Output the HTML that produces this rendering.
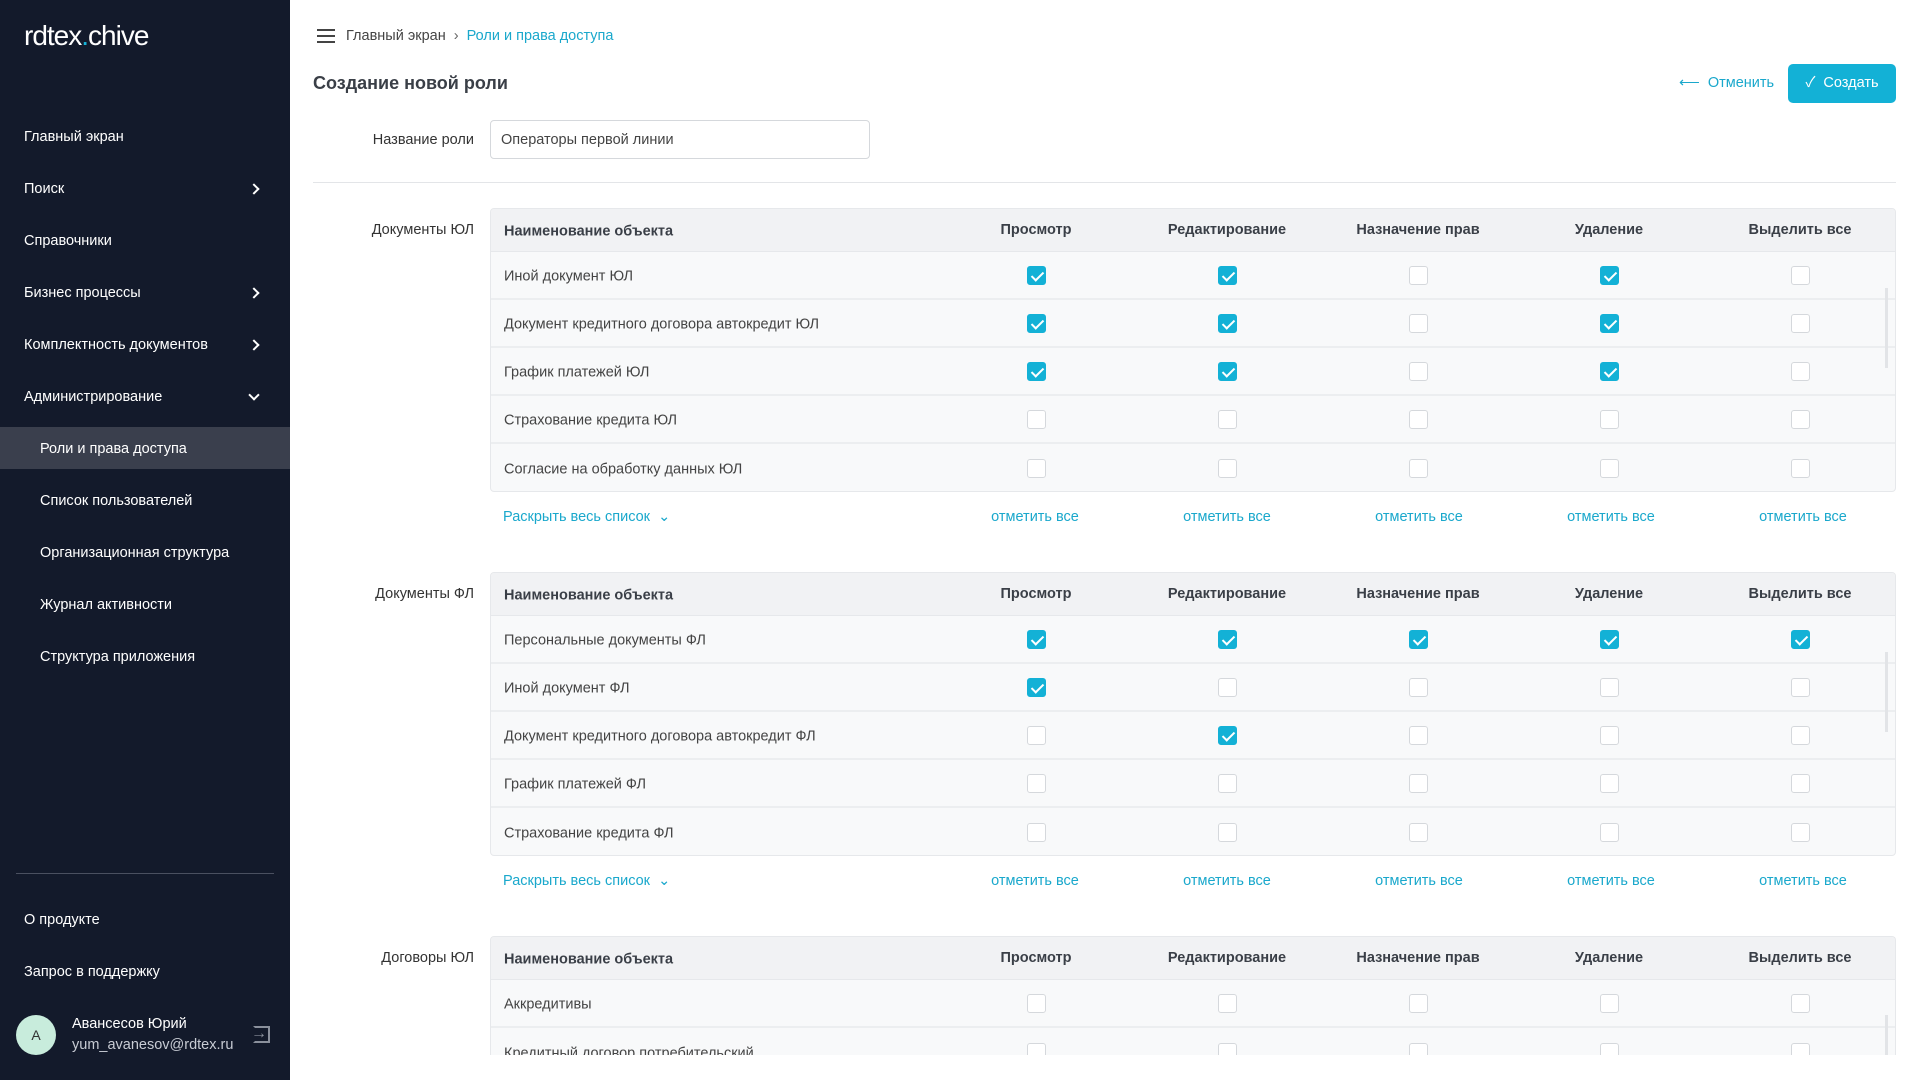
<!DOCTYPE html>
<html><head><meta charset="utf-8"><style>
*{box-sizing:border-box;margin:0;padding:0}
html,body{width:1920px;height:1080px;overflow:hidden}
body{background:#fff;font-family:"Liberation Sans","Noto Sans CJK SC",sans-serif;font-size:14.5px;color:#333;position:relative}
.sb{position:absolute;left:0;top:0;width:290px;height:1080px;background:#131a2b;color:#fff}
.a{position:absolute;white-space:nowrap}
.nav{position:absolute;left:24px;transform:translateY(-50%);font-size:14.5px;color:#fff}
.chev{position:absolute;left:250px;width:8px;height:8px;border-right:2px solid #fff;border-top:2px solid #fff;transform:translateY(-50%) rotate(45deg)}
.link{color:#1aa8cc}
.tbl{position:absolute;left:490px;width:1406px;border:1px solid #e6e8eb;border-radius:4px;background:#f8f9fa;overflow:hidden}
.hd{height:43px;background:#f1f2f4;border-bottom:1px solid #e6e8eb;position:relative;font-weight:bold;color:#3a3f47}
.row{height:48px;border-bottom:2px solid #eceef0;position:relative;color:#444}
.row:last-child{border-bottom:none}
.c{position:absolute;top:50%;transform:translate(-50%,-50%);white-space:nowrap}
.n{position:absolute;left:13px;top:50%;transform:translateY(-40%);white-space:nowrap}
.cb{position:absolute;top:50%;width:19px;height:19px;margin-left:-9.5px;margin-top:-9.5px;border:1px solid #d5d8dc;border-radius:3px;background:#fff}
.cb.on{background:#13b1d6;border-color:#13b1d6}
.cb.on::after{content:"";position:absolute;left:6px;top:2px;width:5px;height:10px;border-right:2px solid #fff;border-bottom:2px solid #fff;transform:rotate(45deg)}
.lbl{position:absolute;right:1446px;font-size:14.5px;color:#333;white-space:nowrap;transform:translateY(-50%)}
.ft{position:absolute;color:#1aa8cc;transform:translate(-50%,-50%);white-space:nowrap}
</style></head><body>
<div class="sb">
<div class="a" style="left:24px;top:20px;font-size:28px;letter-spacing:-1px;color:#fff">rdtex<span style="color:#17b3d8">.</span><span style="font-weight:300">chive</span></div>
<div class="nav" style="top:137px">Главный экран</div>
<div class="nav" style="top:189px">Поиск</div><div class="chev" style="top:189px"></div>
<div class="nav" style="top:241px">Справочники</div>
<div class="nav" style="top:293px">Бизнес процессы</div><div class="chev" style="top:293px"></div>
<div class="nav" style="top:345px">Комплектность документов</div><div class="chev" style="top:345px"></div>
<div class="nav" style="top:397px">Администрирование</div><div class="chev" style="top:395px;transform:translateY(-50%) rotate(135deg)"></div>
<div class="a" style="left:0;top:427px;width:290px;height:42px;background:#3a3f4d"></div>
<div class="nav" style="top:449px;left:40px">Роли и права доступа</div>
<div class="nav" style="top:501px;left:40px">Список пользователей</div>
<div class="nav" style="top:553px;left:40px">Организационная структура</div>
<div class="nav" style="top:605px;left:40px">Журнал активности</div>
<div class="nav" style="top:657px;left:40px">Структура приложения</div>
<div class="a" style="left:16px;top:873px;width:258px;height:1px;background:#4a5060"></div>
<div class="nav" style="top:920px">О продукте</div>
<div class="nav" style="top:972px">Запрос в поддержку</div>
<div class="a" style="left:16px;top:1015px;width:40px;height:40px;border-radius:50%;background:#c8ecdc;color:#333;text-align:center;line-height:40px;font-size:14px">A</div>
<div class="nav" style="left:72px;top:1024px">Авансесов Юрий</div>
<div class="nav" style="left:72px;top:1045px;color:#c8ccd4">yum_avanesov@rdtex.ru</div>
<div class="a" style="left:253px;top:1026px;width:17px;height:17px;border:2px solid #8a909c;border-left-color:transparent"></div>
<div class="a" style="left:251px;top:1025px;color:#8a909c;font-size:16px">→</div>
</div>

<div class="a" style="left:317px;top:29px;width:18px;height:14px;border-top:2px solid #444;border-bottom:2px solid #444"></div>
<div class="a" style="left:317px;top:35px;width:18px;height:2px;background:#444"></div>
<div class="a" style="left:346px;top:28px;color:#444">Главный экран <span style="color:#666;margin:0 4px">›</span> <span class="link">Роли и права доступа</span></div>
<div class="a" style="left:313px;top:73px;font-size:18px;font-weight:bold;color:#3a3f47">Создание новой роли</div>
<div class="a" style="left:1679px;top:75px;color:#1aa8cc">⟵&nbsp; Отменить</div>
<div class="a" style="left:1788px;top:64px;width:108px;height:39px;background:#13b1d6;border-radius:5px;color:#fff;line-height:39px;text-align:center">✓&nbsp; Создать</div>
<div class="lbl" style="top:140px;right:1446px">Название роли</div>
<div class="a" style="left:490px;top:120px;width:380px;height:39px;border:1px solid #d5d8dc;border-radius:4px;padding-left:10px;line-height:39px;color:#444">Операторы первой линии</div>
<div class="a" style="left:313px;top:182px;width:1583px;height:1px;background:#e3e5e8"></div>

<!-- table 1 -->
<div class="lbl" style="top:230px">Документы ЮЛ</div>
<div class="tbl" style="top:208px;height:284px">
<div class="hd"><span class="n">Наименование объекта</span><span class="c" style="left:545px">Просмотр</span><span class="c" style="left:736px">Редактирование</span><span class="c" style="left:927px">Назначение прав</span><span class="c" style="left:1118px">Удаление</span><span class="c" style="left:1309px">Выделить все</span></div>
<div class="row"><span class="n">Иной документ ЮЛ</span><i class="cb on" style="left:545px"></i><i class="cb on" style="left:736px"></i><i class="cb" style="left:927px"></i><i class="cb on" style="left:1118px"></i><i class="cb" style="left:1309px"></i></div>
<div class="row"><span class="n">Документ кредитного договора автокредит ЮЛ</span><i class="cb on" style="left:545px"></i><i class="cb on" style="left:736px"></i><i class="cb" style="left:927px"></i><i class="cb on" style="left:1118px"></i><i class="cb" style="left:1309px"></i></div>
<div class="row"><span class="n">График платежей ЮЛ</span><i class="cb on" style="left:545px"></i><i class="cb on" style="left:736px"></i><i class="cb" style="left:927px"></i><i class="cb on" style="left:1118px"></i><i class="cb" style="left:1309px"></i></div>
<div class="row"><span class="n">Страхование кредита ЮЛ</span><i class="cb" style="left:545px"></i><i class="cb" style="left:736px"></i><i class="cb" style="left:927px"></i><i class="cb" style="left:1118px"></i><i class="cb" style="left:1309px"></i></div>
<div class="row"><span class="n">Согласие на обработку данных ЮЛ</span><i class="cb" style="left:545px"></i><i class="cb" style="left:736px"></i><i class="cb" style="left:927px"></i><i class="cb" style="left:1118px"></i><i class="cb" style="left:1309px"></i></div>
</div>
<div class="a" style="left:1885px;top:288px;width:3px;height:80px;background:#e2e4e7"></div>
<div class="a link" style="left:503px;top:509px">Раскрыть весь список &nbsp;⌄</div>
<div class="ft" style="left:1035px;top:517px">отметить все</div><div class="ft" style="left:1227px;top:517px">отметить все</div><div class="ft" style="left:1419px;top:517px">отметить все</div><div class="ft" style="left:1611px;top:517px">отметить все</div><div class="ft" style="left:1803px;top:517px">отметить все</div>

<!-- table 2 -->
<div class="lbl" style="top:594px">Документы ФЛ</div>
<div class="tbl" style="top:572px;height:284px">
<div class="hd"><span class="n">Наименование объекта</span><span class="c" style="left:545px">Просмотр</span><span class="c" style="left:736px">Редактирование</span><span class="c" style="left:927px">Назначение прав</span><span class="c" style="left:1118px">Удаление</span><span class="c" style="left:1309px">Выделить все</span></div>
<div class="row"><span class="n">Персональные документы ФЛ</span><i class="cb on" style="left:545px"></i><i class="cb on" style="left:736px"></i><i class="cb on" style="left:927px"></i><i class="cb on" style="left:1118px"></i><i class="cb on" style="left:1309px"></i></div>
<div class="row"><span class="n">Иной документ ФЛ</span><i class="cb on" style="left:545px"></i><i class="cb" style="left:736px"></i><i class="cb" style="left:927px"></i><i class="cb" style="left:1118px"></i><i class="cb" style="left:1309px"></i></div>
<div class="row"><span class="n">Документ кредитного договора автокредит ФЛ</span><i class="cb" style="left:545px"></i><i class="cb on" style="left:736px"></i><i class="cb" style="left:927px"></i><i class="cb" style="left:1118px"></i><i class="cb" style="left:1309px"></i></div>
<div class="row"><span class="n">График платежей ФЛ</span><i class="cb" style="left:545px"></i><i class="cb" style="left:736px"></i><i class="cb" style="left:927px"></i><i class="cb" style="left:1118px"></i><i class="cb" style="left:1309px"></i></div>
<div class="row"><span class="n">Страхование кредита ФЛ</span><i class="cb" style="left:545px"></i><i class="cb" style="left:736px"></i><i class="cb" style="left:927px"></i><i class="cb" style="left:1118px"></i><i class="cb" style="left:1309px"></i></div>
</div>
<div class="a" style="left:1885px;top:652px;width:3px;height:80px;background:#e2e4e7"></div>
<div class="a link" style="left:503px;top:873px">Раскрыть весь список &nbsp;⌄</div>
<div class="ft" style="left:1035px;top:881px">отметить все</div><div class="ft" style="left:1227px;top:881px">отметить все</div><div class="ft" style="left:1419px;top:881px">отметить все</div><div class="ft" style="left:1611px;top:881px">отметить все</div><div class="ft" style="left:1803px;top:881px">отметить все</div>

<!-- table 3 -->
<div class="lbl" style="top:958px">Договоры ЮЛ</div>
<div class="tbl" style="top:936px;height:119px;border-bottom:none;border-radius:4px 4px 0 0">
<div class="hd"><span class="n">Наименование объекта</span><span class="c" style="left:545px">Просмотр</span><span class="c" style="left:736px">Редактирование</span><span class="c" style="left:927px">Назначение прав</span><span class="c" style="left:1118px">Удаление</span><span class="c" style="left:1309px">Выделить все</span></div>
<div class="row" style="border-bottom:2px solid #eceef0"><span class="n">Аккредитивы</span><i class="cb" style="left:545px"></i><i class="cb" style="left:736px"></i><i class="cb" style="left:927px"></i><i class="cb" style="left:1118px"></i><i class="cb" style="left:1309px"></i></div>
<div class="row"><span class="n">Кредитный договор потребительский</span><i class="cb" style="left:545px"></i><i class="cb" style="left:736px"></i><i class="cb" style="left:927px"></i><i class="cb" style="left:1118px"></i><i class="cb" style="left:1309px"></i></div>
</div>
<div class="a" style="left:1885px;top:1015px;width:3px;height:40px;background:#e2e4e7"></div>
</body></html>
